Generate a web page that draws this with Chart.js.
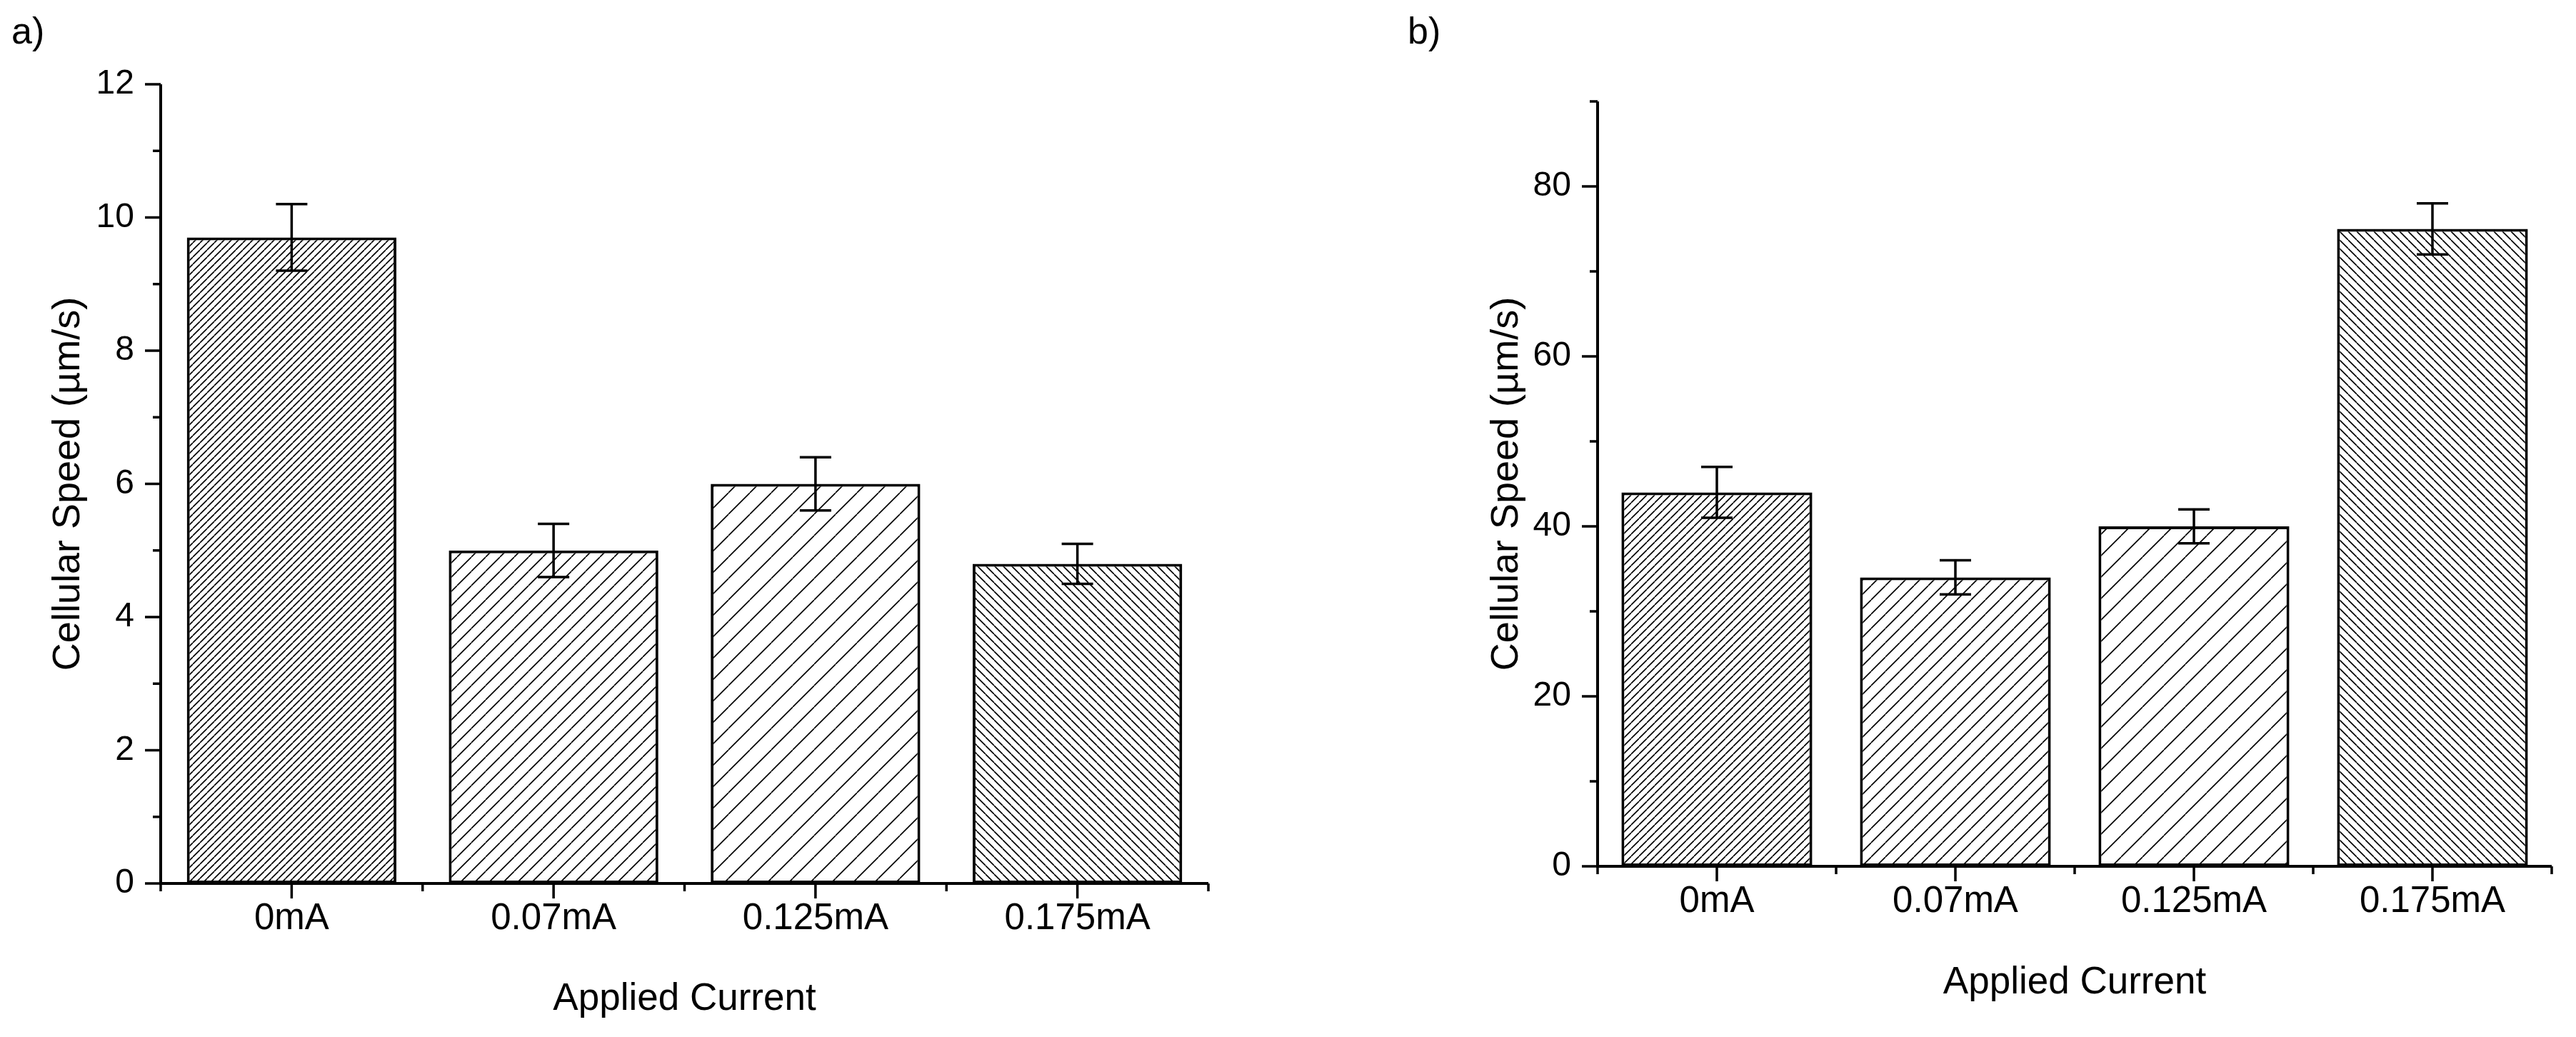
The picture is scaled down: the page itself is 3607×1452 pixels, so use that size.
<!DOCTYPE html>
<html lang="en">
<head>
<meta charset="UTF-8">
<title>Cellular Speed vs Applied Current</title>
<script src="https://cdn.jsdelivr.net/npm/chart.js"></script>
<style>
  html, body { margin: 0; padding: 0; background: #fff; }
  body { width: 3607px; height: 1452px; position: relative; overflow: hidden; font-family: "Liberation Sans", Arial, sans-serif; }
  .panel { position: absolute; top: 0; height: 1452px; }
  #panelA { left: 0; width: 1800px; }
  #panelB { left: 1800px; width: 1807px; }
  .tag { position: absolute; top: 17px; font-size: 52px; line-height: 1; color: #000; }
</style>
</head>
<body>
<div class="tag" style="left:16px">a)</div>
<div class="tag" style="left:1971px">b)</div>
<div class="panel" id="panelA"><canvas id="chartA"></canvas></div>
<div class="panel" id="panelB"><canvas id="chartB"></canvas></div>

<script>
// data
const categories = ['0mA', '0.07mA', '0.125mA', '0.175mA'];
const speedA = [9.7, 5.0, 6.0, 4.8];
const errA = [0.5, 0.4, 0.4, 0.3];
const speedB = [44, 34, 40, 75];
const errB = [3, 2, 2, 3];
const yLabelsA = [0, 2, 4, 6, 8, 10, 12];
const yLabelsB = [0, 20, 40, 60, 80];

const FONT = '"Liberation Sans", Arial, sans-serif';

// hatch fill like the Origin patterns
function hatch(spacing, dir) {
    const c = document.createElement('canvas');
    c.width = spacing; c.height = spacing;
    const g = c.getContext('2d');
    g.fillStyle = '#fff';
    g.fillRect(0, 0, spacing, spacing);
    g.strokeStyle = '#000';
    g.lineWidth = 1.6;
    g.beginPath();
    for (const off of [-spacing, 0, spacing]) {
        if (dir === '/') { g.moveTo(off, spacing); g.lineTo(off + spacing, 0); }
        else { g.moveTo(off, 0); g.lineTo(off + spacing, spacing); }
    }
    g.stroke();
    return g.createPattern(c, 'repeat');
}

// axes, minor ticks and error bars drawn off the chart scales
const axisDrawer = {
    id: 'axisDrawer',
    afterDatasetsDraw(chart, args, opts) {
        const { ctx, chartArea: a, scales: { x, y } } = chart;
        const values = chart.data.datasets[0].data;
        ctx.save();
        ctx.strokeStyle = '#000';
        ctx.lineCap = 'butt';

        ctx.lineWidth = 3.5;
        ctx.beginPath();
        chart.getDatasetMeta(0).data.forEach((bar, i) => {
            const hi = y.getPixelForValue(values[i] + opts.errors[i]);
            const lo = y.getPixelForValue(values[i] - opts.errors[i]);
            ctx.moveTo(bar.x, hi); ctx.lineTo(bar.x, lo);
            ctx.moveTo(bar.x - 22, hi); ctx.lineTo(bar.x + 22, hi);
            ctx.moveTo(bar.x - 22, lo); ctx.lineTo(bar.x + 22, lo);
        });
        ctx.stroke();

        ctx.beginPath();
        y.ticks.forEach(t => {
            const py = y.getPixelForValue(t.value);
            const len = opts.majorY.includes(t.value) ? 22 : 11;
            ctx.moveTo(a.left - len, py); ctx.lineTo(a.left, py);
        });
        categories.forEach((c, i) => {
            const px = x.getPixelForValue(i);
            ctx.moveTo(px, a.bottom); ctx.lineTo(px, a.bottom + 21);
        });
        for (let i = 0; i <= categories.length; i++) {
            const px = x.getPixelForValue(i - 0.5);
            ctx.moveTo(px, a.bottom); ctx.lineTo(px, a.bottom + 11);
        }
        ctx.stroke();

        ctx.lineWidth = 4;
        ctx.beginPath();
        ctx.moveTo(a.left, a.top); ctx.lineTo(a.left, a.bottom);
        ctx.moveTo(a.left - 2, a.bottom); ctx.lineTo(a.right, a.bottom);
        ctx.stroke();
        ctx.restore();
    }
};

function makeChart(id, values, errors, yMax, yStep, majorY, fills, lay) {
    return new Chart(document.getElementById(id), {
        type: 'bar',
        data: {
            labels: categories,
            datasets: [{
                data: values,
                backgroundColor: fills,
                borderColor: '#000',
                borderWidth: 4,
                borderSkipped: false,
                categoryPercentage: 1,
                barPercentage: 0.8
            }]
        },
        options: {
            responsive: true,
            maintainAspectRatio: false,
            animation: false,
            layout: { padding: { top: lay.top, right: lay.right, left: 0, bottom: 0 } },
            plugins: {
                legend: { display: false },
                tooltip: { enabled: false },
                axisDrawer: { errors: errors, majorY: majorY }
            },
            scales: {
                x: {
                    offset: true,
                    grid: { display: false, drawTicks: false },
                    border: { display: false },
                    ticks: { color: '#000', font: { family: FONT, size: 51 }, padding: 19, maxRotation: 0, autoSkip: false },
                    title: {
                        display: true, text: 'Applied Current', color: '#000',
                        font: { family: FONT, size: 53 }, padding: { top: 0, bottom: lay.xTitle }
                    },
                    afterFit(s) { s.height = lay.xHeight; }
                },
                y: {
                    min: 0,
                    max: yMax,
                    grid: { display: false, drawTicks: false },
                    border: { display: false },
                    ticks: {
                        stepSize: yStep, color: '#000', font: { family: FONT, size: 48 }, padding: 37, autoSkip: false,
                        callback: v => majorY.includes(v) ? String(v) : ''
                    },
                    title: {
                        display: true, text: 'Cellular Speed (µm/s)', color: '#000',
                        font: { family: FONT, size: 54 }, padding: { top: lay.yTitle, bottom: 0 }
                    },
                    afterFit(s) { s.width = lay.yWidth; }
                }
            }
        },
        plugins: [axisDrawer]
    });
}

makeChart('chartA', speedA, errA, 12, 1, yLabelsA,
    [hatch(10, '/'), hatch(20, '/'), hatch(30, '/'), hatch(12, '\\')],
    { top: 118, right: 108, yWidth: 225, xHeight: 215, yTitle: 64, xTitle: 21 });

makeChart('chartB', speedB, errB, 90, 10, yLabelsB,
    [hatch(11, '/'), hatch(20, '/'), hatch(30, '/'), hatch(12, '\\')],
    { top: 142, right: 34, yWidth: 437, xHeight: 239, yTitle: 278, xTitle: 44 });
</script>
</body>
</html>
